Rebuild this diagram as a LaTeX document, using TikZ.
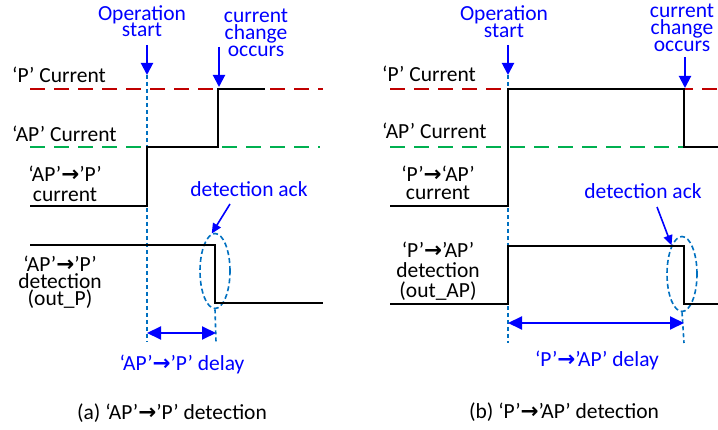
\documentclass[tikz,border=0pt]{standalone}
\usepackage{fontspec}
\setmainfont{Carlito}
\newfontfamily\arrowfont{DejaVu Sans Bold}
\usetikzlibrary{arrows.meta,shapes.geometric}
\definecolor{markBlue}{RGB}{0,112,192}
\definecolor{noteBlue}{RGB}{0,0,255}
\definecolor{pRed}{RGB}{192,0,0}
\definecolor{apGreen}{RGB}{0,176,80}
\tikzset{
  lbl/.style={inner sep=0pt, align=center, font=\fontsize{21.5}{17}\selectfont},
  note/.style={lbl, text=noteBlue},
  wave/.style={line width=2pt, line join=miter},
  pline/.style={line width=1.8pt, color=pRed, dash pattern=on 15pt off 9pt},
  apline/.style={line width=1.8pt, color=apGreen, dash pattern=on 15pt off 9pt},
  marker/.style={line width=1.6pt, color=markBlue, dash pattern=on 4pt off 3pt},
  pointer/.style={-{Triangle[length=12pt,width=12pt]}, line width=2pt, noteBlue},
  ackpointer/.style={-{Triangle[length=10pt,width=9pt]}, line width=1.6pt, noteBlue},
  span/.style={{Triangle[length=14pt,width=13pt]}-{Triangle[length=14pt,width=13pt]}, line width=2pt, noteBlue},
  ring/.style={ellipse, draw=markBlue, line width=1.6pt, dash pattern=on 5pt off 3pt, minimum width=30pt, minimum height=75pt, inner sep=0pt}
}
\newcommand{\rarr}{{\arrowfont →}}

\begin{document}
\begin{tikzpicture}[x=1pt, y=-1pt]
  \useasboundingbox (0,0) rectangle (718,430);

  % (a) AP -> P
  \node[note, anchor=base] (opA) at (142,37) {Operation\\[-2pt]start};
  \node[note, anchor=base] (chgA) at (256,57) {current\\change\\occurs};
  \node[lbl, anchor=base west] (pcurA) at (12,83) {‘P’ Current};
  \node[lbl, anchor=base west] (apcurA) at (12,142) {‘AP’ Current};
  \node[lbl, anchor=base] (curA) at (65,202) {‘AP’\rarr’P’\\[3pt]current};
  \node[lbl, anchor=base] (detA) at (60,306) {‘AP’\rarr’P’\\detection\\(out\_P)};
  \node[note, anchor=base] (ackA) at (249,197) {detection ack};
  \node[note, anchor=base] (dlyA) at (182,371) {‘AP’\rarr’P’ delay};
  \node[lbl, anchor=base] (capA) at (172,420) {(a) ‘AP’\rarr’P’ detection};
  \node[ring] (ringA) at (215,271) {};

  \coordinate (opAtop) at (147,45);
  \coordinate (opAtip) at (147,75);
  \coordinate (opAend) at (147,342);
  \coordinate (chgAtop) at (219,47);
  \coordinate (chgAtip) at (219,87);
  \coordinate (ackAfrom) at (230,204);
  \coordinate (dlyAend) at (216,342);

  \draw[pline] (30,89) -- (323,89);
  \draw[apline] (30,147) -- (320,147);
  \draw[marker] (opAtip) -- (opAend);
  \draw[marker] (ringA.south) -- (dlyAend);
  \draw[wave] (30,206) -- (147,206) -- (147,147) -- (218,147) -- (218,89) -- (265,89);
  \draw[wave] (30,245) -- (215,245) -- (215,303) -- (323,303);
  \draw[pointer] (opAtop) -- (opAtip);
  \draw[pointer] (chgAtop) -- (chgAtip);
  \draw[ackpointer] (ackAfrom) -- (ringA.95);
  \draw[span] (147,333) -- (216,333);

  % (b) P -> AP
  \node[note, anchor=base] (opB) at (504,38) {Operation\\[-1pt]start};
  \node[note, anchor=base] (chgB) at (682,52) {current\\change\\occurs};
  \node[lbl, anchor=base west] (pcurB) at (382,82) {‘P’ Current};
  \node[lbl, anchor=base west] (apcurB) at (382,139) {‘AP’ Current};
  \node[lbl, anchor=base] (curB) at (438,200) {‘P’\rarr‘AP’\\[1pt]current};
  \node[lbl, anchor=base] (detB) at (438,298) {‘P’\rarr’AP’\\[3pt]detection\\[3pt](out\_AP)};
  \node[note, anchor=base] (ackB) at (643,199) {detection ack};
  \node[note, anchor=base] (dlyB) at (597,367) {‘P’\rarr’AP’ delay};
  \node[lbl, anchor=base] (capB) at (564,419) {(b) ‘P’\rarr’AP’ detection};
  \node[ring] (ringB) at (682,274) {};

  \coordinate (opBtop) at (508,45);
  \coordinate (opBtip) at (508,75);
  \coordinate (opBend) at (508,343);
  \coordinate (chgBtop) at (685,57);
  \coordinate (chgBtip) at (685,88);
  \coordinate (ackBfrom) at (657,207);
  \coordinate (dlyBend) at (684,343);

  \draw[pline] (390,89) -- (718,89);
  \draw[apline] (390,147) -- (718,147);
  \draw[marker] (opBtip) -- (opBend);
  \draw[marker] (ringB.south) -- (dlyBend);
  \draw[wave] (390,206) -- (508,206) -- (508,89) -- (684,89) -- (684,147) -- (718,147);
  \draw[wave] (390,304) -- (508,304) -- (508,246) -- (684,246) -- (684,304) -- (718,304);
  \draw[pointer] (opBtop) -- (opBtip);
  \draw[pointer] (chgBtop) -- (chgBtip);
  \draw[ackpointer] (ackBfrom) -- (ringB.110);
  \draw[span] (508,323) -- (684,323);
\end{tikzpicture}
\end{document}
